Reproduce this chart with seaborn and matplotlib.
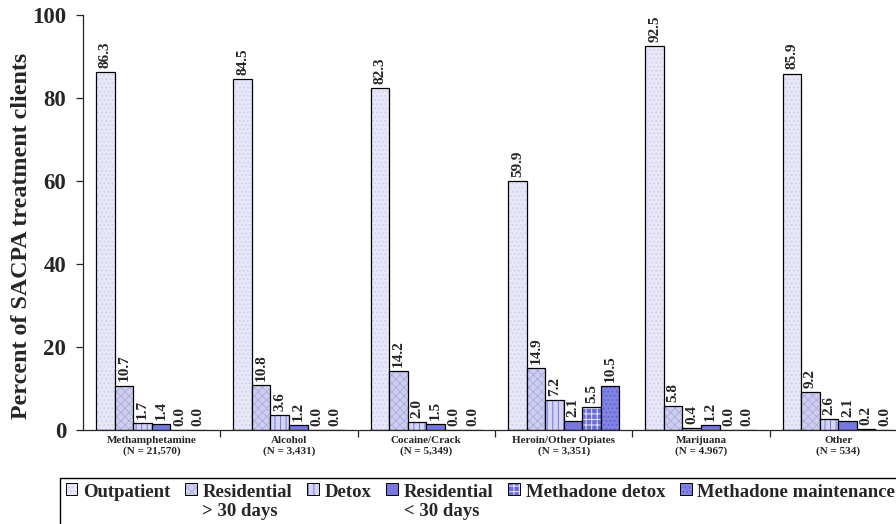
import matplotlib
matplotlib.use("Agg")
import matplotlib.pyplot as plt
from matplotlib.colors import to_rgba
from matplotlib.legend_handler import HandlerPatch
from matplotlib.patches import Rectangle
import seaborn as sns
import pandas as pd
import numpy as np

drugs = ["Methamphetamine", "Alcohol", "Cocaine/Crack", "Heroin/Other Opiates", "Marijuana", "Other"]
counts = ["(N = 21,570)", "(N = 3,431)", "(N = 5,349)", "(N = 3,351)", "(N = 4.967)", "(N = 534)"]
settings = ["Outpatient", "Residential\n> 30 days", "Detox", "Residential\n< 30 days",
            "Methadone detox", "Methadone maintenance"]

outpatient = [86.3, 84.5, 82.3, 59.9, 92.5, 85.9]
residential_long = [10.7, 10.8, 14.2, 14.9, 5.8, 9.2]
detox = [1.7, 3.6, 2.0, 7.2, 0.4, 2.6]
residential_short = [1.4, 1.2, 1.5, 2.1, 1.2, 2.1]
methadone_detox = [0.0, 0.0, 0.0, 5.5, 0.0, 0.2]
methadone_maint = [0.0, 0.0, 0.0, 10.5, 0.0, 0.0]

series = [outpatient, residential_long, detox, residential_short, methadone_detox, methadone_maint]

rows = []
for s, vals in zip(settings, series):
    for d, v in zip(drugs, vals):
        rows.append({"drug": d, "setting": s, "pct": v})
df = pd.DataFrame(rows)

faces = ["#E4E4FA", "#CACAF2", "#D0D0F8", "#6666EE", "#5A5AE8", "#7272F0"]
hatches = ["....", "xxxx", "|||", None, "+++", "...."]
hatch_cols = ["#D0D0F2", "#AEAEE6", "#7474EA", None, "#E8E8FF", "#5C5CE0"]

sns.set_style("ticks")
plt.rcParams["font.family"] = ["Liberation Serif", "DejaVu Serif"]
plt.rcParams["font.weight"] = "bold"
plt.rcParams["hatch.linewidth"] = 0.7

fig = plt.figure(figsize=(8.96, 5.24), dpi=100)
ax = fig.add_axes([83 / 896, 1 - 430 / 524, 824 / 896, 415 / 524])

sns.barplot(data=df, x="drug", y="pct", hue="setting", hue_order=settings, order=drugs,
            palette=faces, width=0.81, gap=0, edgecolor="black", linewidth=0.9,
            errorbar=None, ax=ax, legend=True)


def apply_style(p, h, hc):
    if h:
        p.set_hatch(h)
        p._hatch_color = to_rgba(hc)


for cont, h, hc in zip(ax.containers, hatches, hatch_cols):
    for p in cont.patches:
        apply_style(p, h, hc)
    ax.bar_label(cont, fmt="%.1f", rotation=90, padding=3, fontsize=11, fontweight="bold")

ax.set_ylim(0, 100)
ax.set_yticks([0, 20, 40, 60, 80, 100])
ax.set_xlim(-0.5, 5.5)
ax.set_xticks(range(len(drugs)))
ax.set_xticklabels([f"{d}\n{n}" for d, n in zip(drugs, counts)], fontsize=8, fontweight="bold",
                   linespacing=1.25)
ax.set_xticks(np.arange(0.5, 6.0, 1.0), minor=True)
ax.tick_params(axis="x", which="major", length=0, pad=4)
ax.tick_params(axis="x", which="minor", length=5, width=0.9, direction="out")
ax.tick_params(axis="y", labelsize=16.5, length=5, width=0.9, direction="out", pad=7)
for lab in ax.get_yticklabels():
    lab.set_fontweight("bold")

ax.set_xlabel("")
ax.set_ylabel("Percent of SACPA treatment clients", fontsize=17.3, fontweight="bold")
ax.yaxis.set_label_coords(-0.062, 0.467)
ax.spines["top"].set_visible(False)
ax.spines["right"].set_visible(False)
for sp in ("left", "bottom"):
    ax.spines[sp].set_linewidth(0.9)

handles, labels = ax.get_legend_handles_labels()
ax.get_legend().remove()

LEG_SIZE = 13.5


def raised_square(legend, orig_handle, xdescent, ydescent, width, height, fontsize):
    # keep the key square beside the first line of a two-line label
    return Rectangle((-xdescent, -ydescent + 0.68 * fontsize), width, height)


two_line = [lab if "\n" in lab else lab + "\n " for lab in labels]
for hd, h, hc in zip(handles, hatches, hatch_cols):
    hd.set_edgecolor("black")
    hd.set_linewidth(0.7)
    apply_style(hd, h, hc)

leg = fig.legend(handles, two_line, loc="upper left", bbox_to_anchor=(60 / 896, 1 - 478 / 524),
                 ncol=6, frameon=True, fancybox=False, edgecolor="black", framealpha=1,
                 prop={"family": "Liberation Serif", "weight": "bold", "size": LEG_SIZE},
                 handlelength=0.62, handleheight=0.62, handletextpad=0.3, columnspacing=0.8,
                 borderpad=0.3, borderaxespad=0, labelspacing=0.1,
                 handler_map={Rectangle: HandlerPatch(patch_func=raised_square)})
leg.get_frame().set_linewidth(1.0)
for t in leg.get_texts():
    t.set_linespacing(1.2)

fig.savefig("out.png", dpi=100)
